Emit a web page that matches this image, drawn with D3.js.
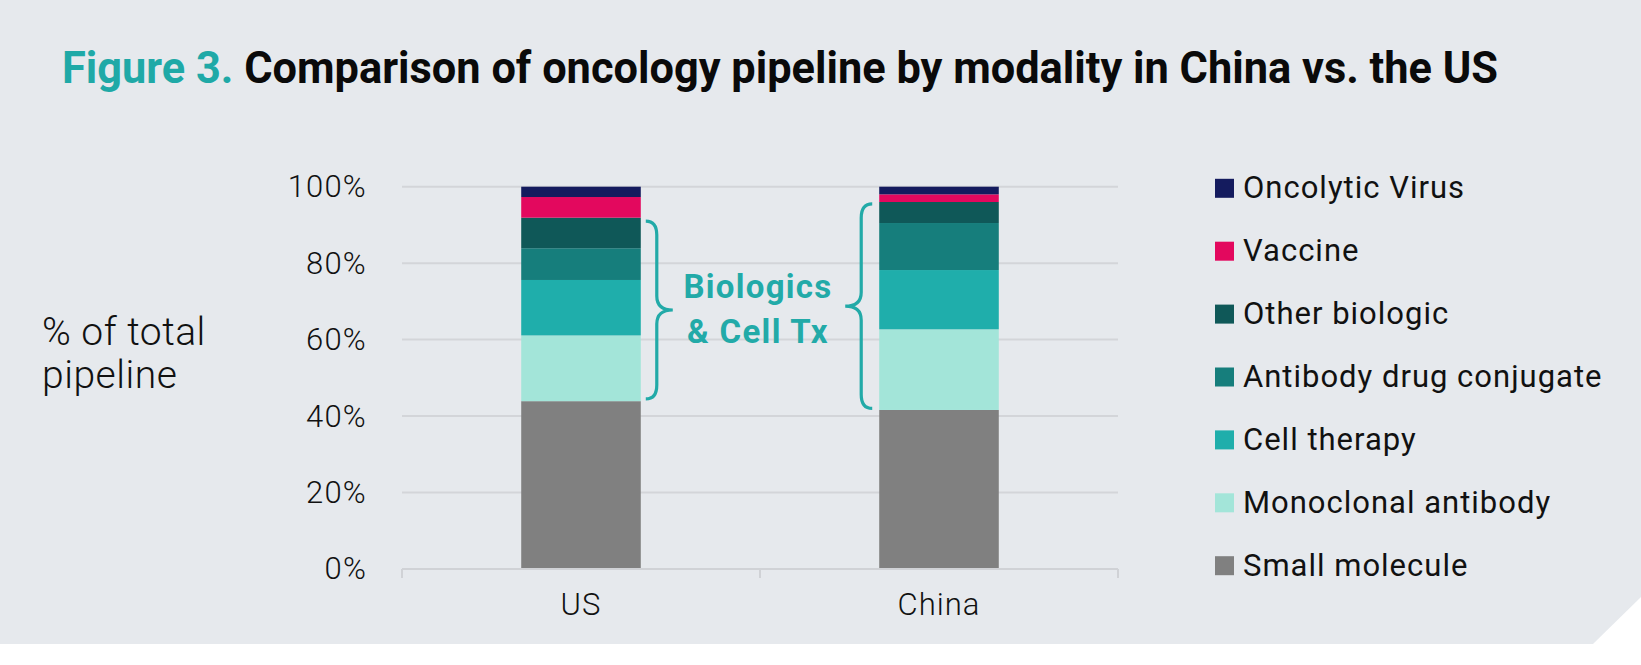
<!DOCTYPE html>
<html>
<head>
    <title>Oncology pipeline by modality</title>
    <script src="https://d3js.org/d3.v7.min.js"></script>
    <style>
        body { margin: 0; background: #ffffff; }
        text { font-family: Roboto, "Noto Sans", sans-serif; }
    </style>
</head>
<body>
<script>
    var width = 1641, height = 665;

    // data
    var categories = ["US", "China"];
    var modalities = ["Small molecule", "Monoclonal antibody", "Cell therapy",
        "Antibody drug conjugate", "Other biologic", "Vaccine", "Oncolytic Virus"];
    var usValues = [43.9, 17.2, 14.5, 8.3, 8.0, 5.4, 2.7];
    var chinaValues = [41.6, 21.1, 15.5, 12.3, 5.5, 2.0, 2.0];
    var modalityColors = ["#808080", "#a3e5d9", "#1faeab", "#167e7c", "#0f5858", "#e3085e", "#141b5e"];
    var yTicks = [0, 20, 40, 60, 80, 100];
    // spans of the "Biologics & Cell Tx" braces, in % of pipeline
    var braceUS = [44.5, 91];
    var braceChina = [42, 95.5];

    var svg = d3.select("body").append("svg")
        .attr("width", width)
        .attr("height", height);

    // grey card with the cut corner
    svg.append("rect").attr("width", width).attr("height", height).attr("fill", "#ffffff");
    svg.append("polygon")
        .attr("points", [[0, 0], [width, 0], [width, 597], [1593, 644], [0, 644]].join(" "))
        .attr("fill", "#e6e9ed");

    // title
    var title = svg.append("text")
        .attr("x", 62)
        .attr("y", 83)
        .attr("font-size", 44)
        .attr("font-weight", 700);
    title.append("tspan").attr("fill", "#1fa9a7").text("Figure 3. ");
    title.append("tspan").attr("fill", "#0a0a0a").text("Comparison of oncology pipeline by modality in China vs. the US");
    title.attr("textLength", 1436).attr("lengthAdjust", "spacingAndGlyphs");

    var x = d3.scaleBand().domain(categories).range([402, 1118]);
    var y = d3.scaleLinear().domain([0, 100]).range([569, 186.7]);
    var barW = x.bandwidth() * 0.334;

    // gridlines
    svg.append("g").selectAll("line")
        .data(yTicks.filter(function(d) { return d > 0; }))
        .join("line")
        .attr("x1", 402).attr("x2", 1118)
        .attr("y1", function(d) { return y(d); })
        .attr("y2", function(d) { return y(d); })
        .attr("stroke", "#d3d5d9")
        .attr("stroke-width", 2);

    // y axis labels
    var yAxis = svg.append("g")
        .attr("transform", "translate(402,0)")
        .call(d3.axisLeft(y).tickValues(yTicks).tickSize(0).tickPadding(35)
            .tickFormat(function(d) { return d + "%"; }));
    yAxis.select(".domain").remove();
    yAxis.selectAll("text")
        .attr("font-family", "Roboto, sans-serif")
        .attr("font-size", 31)
        .attr("font-weight", 300)
        .attr("letter-spacing", 1.2)
        .attr("fill", "#111");

    // stacked bars
    var table = categories.map(function(c, i) {
        var row = { category: c };
        var vals = i === 0 ? usValues : chinaValues;
        modalities.forEach(function(m, j) { row[m] = vals[j]; });
        return row;
    });
    var stacked = d3.stack().keys(modalities)(table);

    svg.append("g").selectAll("g")
        .data(stacked)
        .join("g")
        .attr("fill", function(d, i) { return modalityColors[i]; })
        .selectAll("rect")
        .data(function(d) { return d; })
        .join("rect")
        .attr("x", function(d) { return x(d.data.category) + (x.bandwidth() - barW) / 2; })
        .attr("width", barW)
        .attr("y", function(d) { return y(d[1]); })
        .attr("height", function(d) { return y(d[0]) - y(d[1]); });

    // x axis
    var xAxis = svg.append("g");
    xAxis.append("line")
        .attr("x1", 402).attr("x2", 1118)
        .attr("y1", y(0)).attr("y2", y(0))
        .attr("stroke", "#d0d2d6").attr("stroke-width", 2);
    var edges = categories.map(function(c) { return x(c); }).concat([x.range()[1]]);
    xAxis.selectAll(".edge")
        .data(edges)
        .join("line")
        .attr("class", "edge")
        .attr("x1", function(d) { return d; }).attr("x2", function(d) { return d; })
        .attr("y1", y(0)).attr("y2", y(0) + 9)
        .attr("stroke", "#d0d2d6").attr("stroke-width", 2);
    xAxis.selectAll(".cat")
        .data(categories)
        .join("text")
        .attr("class", "cat")
        .attr("x", function(d) { return x(d) + x.bandwidth() / 2; })
        .attr("y", 615)
        .attr("text-anchor", "middle")
        .attr("font-size", 31)
        .attr("font-weight", 300)
        .attr("letter-spacing", 1)
        .attr("fill", "#111")
        .text(function(d) { return d; });

    // y axis title
    var yTitle = svg.append("text")
        .attr("x", 42)
        .attr("font-size", 39)
        .attr("font-weight", 300)
        .attr("letter-spacing", 0.5)
        .attr("fill", "#111");
    yTitle.append("tspan").attr("x", 42).attr("y", 345).text("% of total");
    yTitle.append("tspan").attr("x", 42).attr("y", 388).text("pipeline");

    // braces
    function bracePath(xe, dir, top, bottom) {
        var xv = xe + dir * 11, xt = xe + dir * 27, ym = (top + bottom) / 2, r = 14;
        return "M" + xe + "," + top +
            "Q" + xv + "," + top + " " + xv + "," + (top + r) +
            "L" + xv + "," + (ym - r) +
            "Q" + xv + "," + ym + " " + xt + "," + ym +
            "Q" + xv + "," + ym + " " + xv + "," + (ym + r) +
            "L" + xv + "," + (bottom - r) +
            "Q" + xv + "," + bottom + " " + xe + "," + bottom;
    }
    var usRight = x("US") + (x.bandwidth() + barW) / 2;
    var chinaLeft = x("China") + (x.bandwidth() - barW) / 2;
    svg.append("path")
        .attr("d", bracePath(usRight + 5, 1, y(braceUS[1]), y(braceUS[0])))
        .attr("fill", "none").attr("stroke", "#22aaa8").attr("stroke-width", 3.2);
    svg.append("path")
        .attr("d", bracePath(chinaLeft - 7, -1, y(braceChina[1]), y(braceChina[0])))
        .attr("fill", "none").attr("stroke", "#22aaa8").attr("stroke-width", 3.2);

    var braceText = svg.append("text")
        .attr("text-anchor", "middle")
        .attr("font-family", "'Liberation Sans', Arial, sans-serif")
        .attr("font-size", 33)
        .attr("font-weight", 700)
        .attr("letter-spacing", 1.3)
        .attr("fill", "#22aaa8");
    braceText.append("tspan").attr("x", 758).attr("y", 298).text("Biologics");
    braceText.append("tspan").attr("x", 758).attr("y", 343).text("& Cell Tx");

    // legend, top item first
    var legend = svg.append("g").selectAll("g")
        .data(modalities.slice().reverse())
        .join("g")
        .attr("transform", function(d, i) { return "translate(1215," + (198.3 + i * 62.9) + ")"; });
    legend.append("rect")
        .attr("y", -19.5)
        .attr("width", 19).attr("height", 19)
        .attr("fill", function(d) { return modalityColors[modalities.indexOf(d)]; });
    legend.append("text")
        .attr("x", 28)
        .attr("font-size", 31)
        .attr("font-weight", 400)
        .attr("letter-spacing", 1)
        .attr("fill", "#111")
        .text(function(d) { return d; });
</script>
</body>
</html>
